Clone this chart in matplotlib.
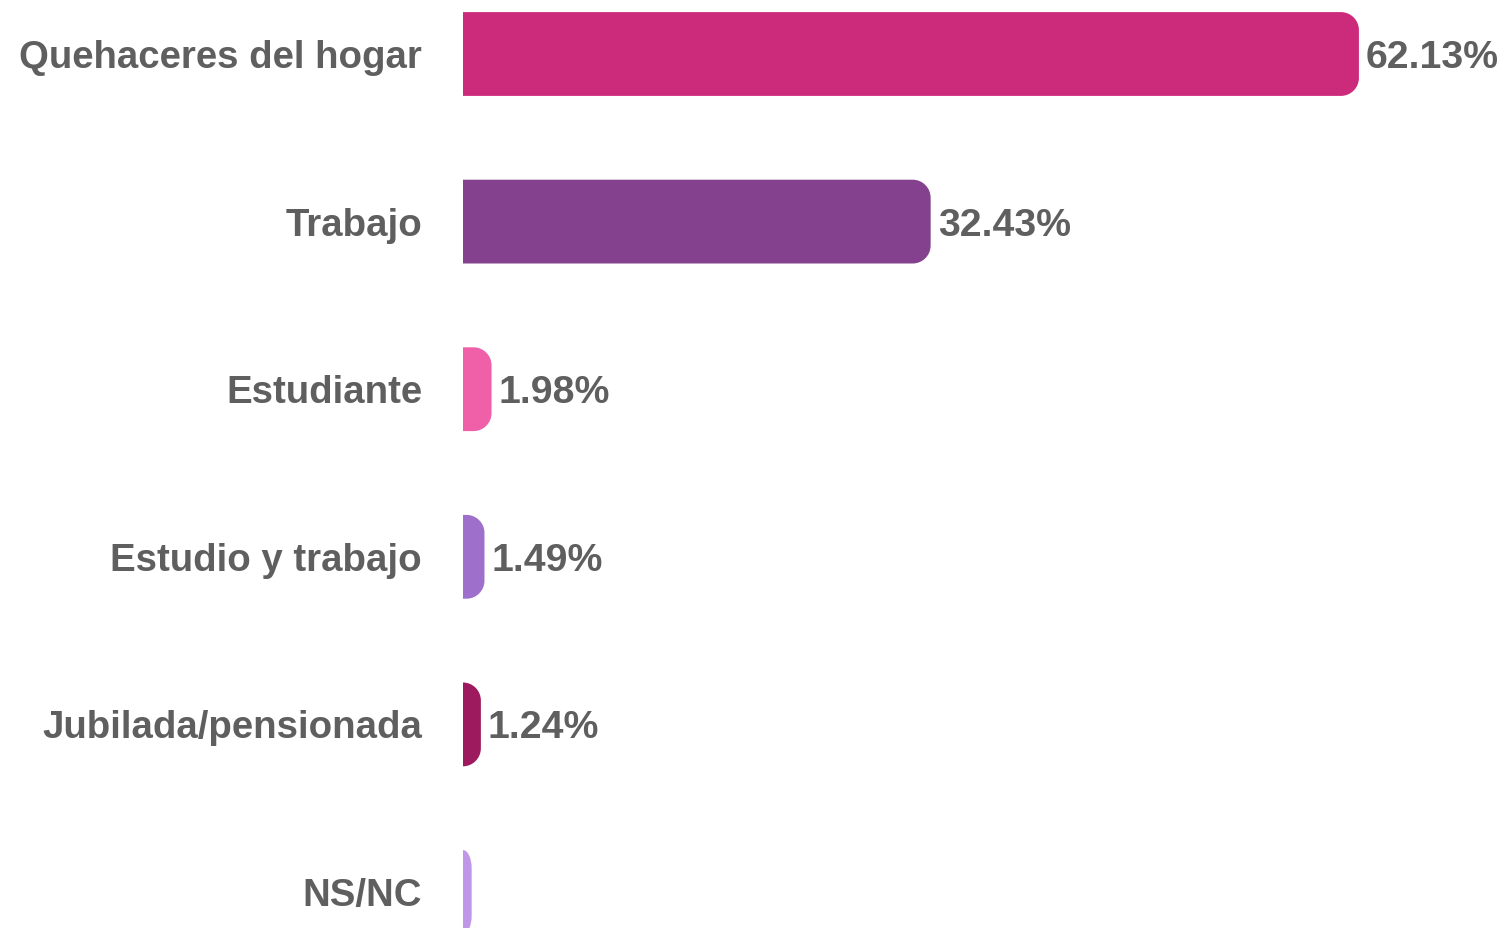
import matplotlib
matplotlib.use("Agg")
import matplotlib.pyplot as plt
from matplotlib.patches import PathPatch
from matplotlib.path import Path

categories = ["Quehaceres del hogar", "Trabajo", "Estudiante", "Estudio y trabajo",
              "Jubilada/pensionada", "NS/NC"]
values = [62.13, 32.43, 1.98, 1.49, 1.24, 0.6]
value_labels = ["62.13%", "32.43%", "1.98%", "1.49%", "1.24%", ""]
colors = ["#CC2A7A", "#84418E", "#F060A8", "#9E70CC", "#9E1A5E", "#C096E8"]

W, H, DPI = 1510, 929, 100
fig = plt.figure(figsize=(W / DPI, H / DPI), dpi=DPI)
ax_left = 463 / W
ax = fig.add_axes([ax_left, 0, 1 - ax_left, 1])

px_per_unit_x = 14.42
xmax = (W - 463) / px_per_unit_x
step = 167.6
ytop = -55 / step
ybot = 5 + (H - 893) / step
ax.set_xlim(0, xmax)
ax.set_ylim(ybot, ytop)

ypos = list(range(len(categories)))
bar_h = 0.5
bars = ax.barh(ypos, values, height=bar_h, color=colors, alpha=0)

px_per_unit_y = H / (ybot - ytop)
r_px = 18
k = 0.5523
txt_color = "#5F5F5F"
font = "Liberation Sans"
base_off = 13 / px_per_unit_y


def rounded_right(x0, y0, w, h):
    rx = min(r_px, w * px_per_unit_x) / px_per_unit_x
    ry = min(r_px / px_per_unit_y, h / 2)
    x1, y1 = x0 + w, y0 + h
    verts = [
        (x0, y0),
        (x1 - rx, y0),
        (x1 - rx + k * rx, y0), (x1, y0 + ry - k * ry), (x1, y0 + ry),
        (x1, y1 - ry),
        (x1, y1 - ry + k * ry), (x1 - rx + k * rx, y1), (x1 - rx, y1),
        (x0, y1),
        (x0, y0),
    ]
    codes = [Path.MOVETO, Path.LINETO,
             Path.CURVE4, Path.CURVE4, Path.CURVE4,
             Path.LINETO,
             Path.CURVE4, Path.CURVE4, Path.CURVE4,
             Path.LINETO, Path.CLOSEPOLY]
    return Path(verts, codes)


for rect, c, lab in zip(bars.patches, colors, value_labels):
    x0, y0, w, h = rect.get_x(), rect.get_y(), rect.get_width(), rect.get_height()
    ax.add_patch(PathPatch(rounded_right(x0, y0, w, h), fc=c, ec="none", lw=0))
    if lab:
        ax.text(x0 + w + 7 / px_per_unit_x, y0 + h / 2 + base_off, lab,
                ha="left", va="baseline",
                fontsize=28.3, fontweight="bold", color=txt_color, family=font)

for y, cat in zip(ypos, categories):
    ax.text(-41 / px_per_unit_x, y + base_off, cat, ha="right", va="baseline",
            fontsize=27.6, fontweight="bold", color=txt_color, family=font, clip_on=False)

ax.axis("off")
fig.savefig("out.png", dpi=DPI)
